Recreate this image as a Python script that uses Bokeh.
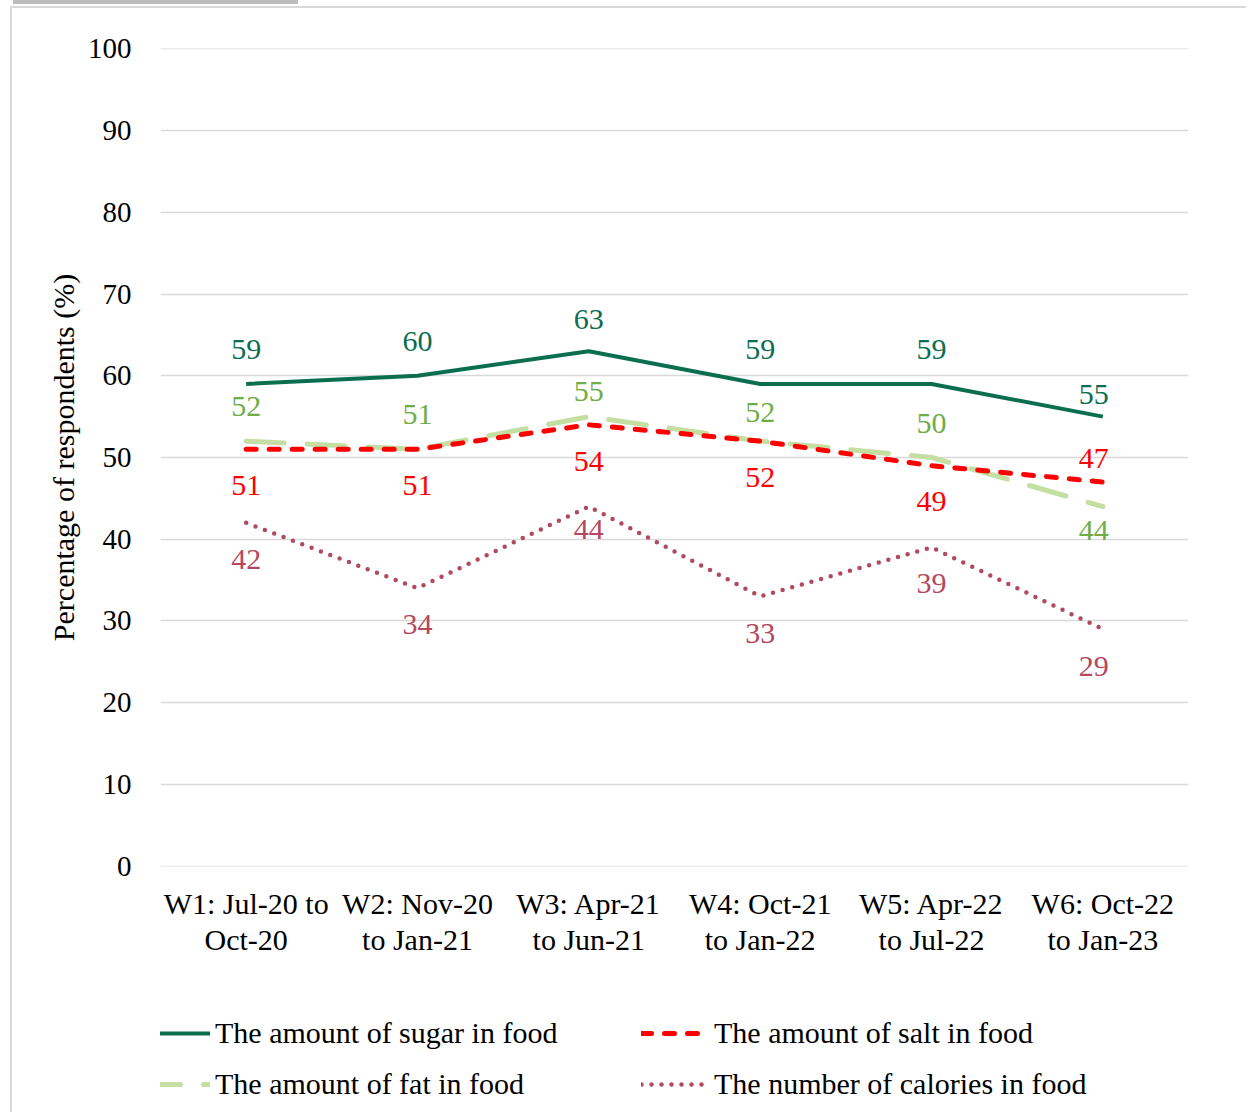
from bokeh.plotting import figure
from bokeh.layouts import column
from bokeh.models import (ColumnDataSource, FactorRange, Legend, LegendItem,
                          FixedTicker, LabelSet, Range1d, Title)
from bokeh.core.properties import value
from bokeh.embed import file_html
from bokeh.resources import INLINE

# ---- data ----
waves = ["W1: Jul-20 to\nOct-20", "W2: Nov-20\nto Jan-21", "W3: Apr-21\nto Jun-21",
         "W4: Oct-21\nto Jan-22", "W5: Apr-22\nto Jul-22", "W6: Oct-22\nto Jan-23"]
sugar = [59, 60, 63, 59, 59, 55]
salt = [51, 51, 54, 52, 49, 47]
fat = [52, 51, 55, 52, 50, 44]
calories = [42, 34, 44, 33, 39, 29]
y_ticks = [0, 10, 20, 30, 40, 50, 60, 70, 80, 90, 100]
y_title = "Percentage of respondents (%)"
series_names = ["The amount of sugar in food", "The amount of salt in food",
                "The amount of fat in food", "The number of calories in food"]

# label offsets in screen pixels (positive = up)
sugar_dy = [34, 34, 32, 34, 34, 22]
salt_dy = [-36, -36, -37, -36, -36, 24]
fat_dy = [35, 35, 25, 29, 34, -24]
cal_dy = [-37, -36, -23, -37, -36, -37]
dx = [0, 0, 0, 0, 0, -9]

FONT = "Liberation Serif"
FS = "30px"
FS_TICK = "29px"

c_sugar, c_salt, c_fat, c_cal = "#0B6E4F", "#FF0000", "#C5DEA2", "#B04A5E"
lab_fat, lab_cal = "#70AD47", "#B5485D"
styles = {
    "sugar": dict(line_color=c_sugar, line_width=4, line_join="round"),
    "salt": dict(line_color=c_salt, line_width=5, line_dash="10 13", line_cap="round"),
    "fat": dict(line_color=c_fat, line_width=5, line_dash="38 23", line_cap="round"),
    "cal": dict(line_color=c_cal, line_width=4.5, line_dash="0 10", line_cap="round"),
}

p = figure(x_range=FactorRange(factors=waves), y_range=Range1d(-0.06, 100.06),
           width=1246, height=980, output_backend="svg", toolbar_location=None,
           min_border_left=160, min_border_right=58, min_border_top=48,
           min_border_bottom=114)
p.outline_line_color = None
p.background_fill_color = "white"
p.border_fill_color = None

p.xgrid.grid_line_color = None
p.ygrid.grid_line_color = "#d9d9d9"
p.ygrid.grid_line_width = 1.5
p.yaxis.ticker = FixedTicker(ticks=y_ticks)

for ax in (p.xaxis, p.yaxis):
    ax.axis_line_color = None
    ax.major_tick_line_color = None
    ax.minor_tick_line_color = None
    ax.major_tick_in = 0
    ax.major_tick_out = 0
    ax.major_label_text_font = FONT
    ax.major_label_text_color = "black"

p.yaxis.major_label_text_font_size = FS_TICK
p.xaxis.major_label_text_font_size = FS
p.yaxis.major_label_standoff = 29
p.xaxis.major_label_standoff = 20
p.xaxis.major_label_text_line_height = 1.1

# y-axis title as a left-side title so it can sit slightly below the frame's middle
yt = Title(text=y_title, align="center", offset=-27, standoff=10,
           text_font=FONT, text_font_size=FS, text_font_style="normal", text_color="black")
p.add_layout(yt, "left")

src = ColumnDataSource(dict(x=waves, sugar=sugar, salt=salt, fat=fat, cal=calories,
                            sugar_t=[str(v) for v in sugar], salt_t=[str(v) for v in salt],
                            fat_t=[str(v) for v in fat], cal_t=[str(v) for v in calories],
                            sugar_dy=sugar_dy, salt_dy=salt_dy, fat_dy=fat_dy, cal_dy=cal_dy,
                            dx=dx))

for key in ["sugar", "cal", "fat", "salt"]:
    p.line("x", key, source=src, **styles[key])

for col, color in [("sugar", c_sugar), ("salt", c_salt), ("fat", lab_fat), ("cal", lab_cal)]:
    ls = LabelSet(x="x", y=col, text=col + "_t", source=src, y_offset=col + "_dy",
                  x_offset="dx", text_align="center", text_baseline="middle",
                  text_font=value(FONT), text_font_size=FS, text_color=color)
    p.add_layout(ls)

# ---- legend panel ----
q = figure(width=1246, height=132, output_backend="svg", toolbar_location=None,
           x_range=Range1d(0, 1), y_range=Range1d(0, 1),
           x_axis_location=None, y_axis_location=None,
           min_border_left=0, min_border_right=0, min_border_top=0, min_border_bottom=0)
q.outline_line_color = None
q.grid.grid_line_color = None
q.border_fill_color = None
q.background_fill_color = None

dummy = {k: q.line(x=[-5, -4], y=[-5, -5], **styles[k]) for k in styles}
order = [("sugar", 0), ("fat", 2), ("salt", 1), ("cal", 3)]
legend = Legend(items=[LegendItem(label=series_names[i], renderers=[dummy[k]]) for k, i in order],
                ncols=2, location=(-18, 3))
legend.label_text_font = FONT
legend.label_text_font_size = FS
legend.label_text_color = "black"
legend.glyph_width = 68
legend.glyph_height = 20
legend.label_height = 51
legend.label_width = 426
legend.label_standoff = 5
legend.spacing = 0
legend.padding = 0
legend.margin = 0
legend.border_line_color = None
legend.background_fill_alpha = 0
q.add_layout(legend, "center")

frame_bg = ("linear-gradient(#bdbdbd,#bdbdbd) 13px 0px / 285px 4px no-repeat, "
            "linear-gradient(#d9d9d9,#d9d9d9) 10px 6px / 2px 100% no-repeat, "
            "linear-gradient(#d9d9d9,#d9d9d9) 10px 6px / 100% 2px no-repeat, white")
layout = column(p, q, spacing=0, styles={"background": frame_bg})
open("out.html", "w").write(file_html(layout, INLINE))
